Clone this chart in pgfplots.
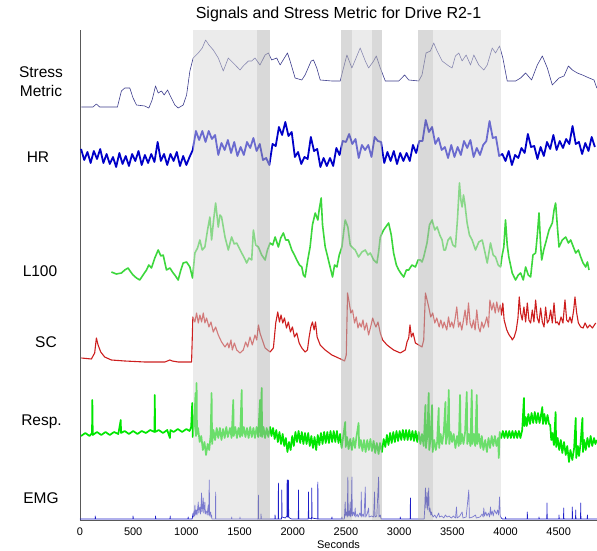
\documentclass[border=0pt]{standalone}
\usepackage{pgfplots}
\pgfplotsset{compat=1.18}
\usepackage{fontspec}
\setmainfont{Liberation Sans}
\definecolor{shadeL}{RGB}{215,215,215}
\definecolor{shadeD}{RGB}{185,185,185}
\definecolor{stresscol}{RGB}{60,60,140}
\definecolor{hrcol}{RGB}{0,0,200}
\definecolor{lcol}{RGB}{60,215,60}
\definecolor{sccol}{RGB}{205,30,30}
\definecolor{respcol}{RGB}{0,230,0}
\definecolor{emgcol}{RGB}{30,30,200}
\begin{document}
\begin{tikzpicture}
\useasboundingbox (-80pt,-31pt) rectangle (517pt,520pt);
\begin{axis}[
  at={(0pt,0pt)}, anchor=south west,
  width=517pt, height=490pt, scale only axis,
  xmin=0, xmax=4860, ymin=0, ymax=490,
  axis x line=bottom, axis y line=left,
  axis line style={-, draw=black!65, line width=0.6pt},
  ytick=\empty,
  xtick={0,500,...,4500},
  major tick length=0pt,
  /pgf/number format/assume math mode=true,
  /pgf/number format/1000 sep={},
  xticklabel style={font=\fontsize{11}{13}\selectfont, anchor=center, yshift=-12pt},
  clip=false,
  line join=round,
]
% Stress metric
\addplot[stresscol, line width=0.6pt] coordinates {
(13,413)(122,413)(154,416)(185,413)(352,413)(389,429)(421,432)(468,432)(499,422)(531,415)(609,414)(647,412)(678,420)(710,434)(735,427)(766,429)(791,425)(823,430)(845,425)(892,415)(923,412)(970,415)(1002,425)(1033,449)(1064,462)(1112,467)(1149,472)(1181,480)(1212,475)(1253,470)(1300,462)(1347,449)(1394,462)(1441,457)(1504,450)(1535,454)(1583,459)(1614,459)(1645,462)(1692,455)(1740,465)(1771,467)(1802,460)(1849,462)(1881,455)(1950,467)(1975,459)(2022,442)(2085,440)(2116,445)(2173,459)(2195,460)(2226,452)(2258,440)(2368,439)(2446,439)(2477,452)(2509,465)(2556,452)(2634,472)(2682,459)(2713,452)(2760,459)(2785,464)(2823,452)(2870,439)(2996,439)(3052,445)(3090,440)(3184,439)(3215,445)(3253,467)(3294,469)(3325,477)(3357,469)(3404,459)(3467,454)(3498,452)(3529,464)(3561,467)(3592,459)(3630,465)(3671,455)(3702,465)(3749,455)(3796,450)(3828,455)(3875,472)(3906,467)(3944,474)(3975,462)(4016,439)(4095,439)(4142,442)(4189,447)(4245,440)(4299,455)(4346,464)(4393,452)(4440,435)(4503,442)(4550,444)(4591,454)(4628,450)(4675,447)(4723,445)(4786,442)(4832,440)(4858,432)
};
% HR
\addplot[hrcol, line width=1.8pt] coordinates {
(10,371)(40,360)(70,368)(100,357)(130,369)(160,361)(190,371)(220,357)(250,366)(280,356)(310,363)(340,353)(370,367)(400,356)(430,364)(460,354)(490,366)(520,359)(550,369)(580,355)(610,365)(640,357)(670,366)(700,358)(730,378)(760,359)(790,366)(820,355)(850,366)(880,359)(910,368)(940,354)(970,364)(1000,355)(1030,363)(1060,370)(1090,389)(1120,380)(1150,389)(1180,378)(1210,389)(1240,381)(1270,385)(1300,365)(1330,377)(1360,370)(1390,380)(1420,367)(1450,378)(1480,364)(1510,373)(1540,365)(1570,378)(1600,372)(1630,382)(1660,369)(1690,376)(1720,360)(1750,362)(1780,355)(1810,376)(1840,374)(1870,393)(1900,385)(1930,398)(1960,384)(1990,388)(2020,363)(2050,368)(2080,356)(2110,363)(2140,361)(2170,383)(2200,369)(2230,371)(2260,353)(2290,362)(2320,354)(2350,362)(2380,354)(2410,372)(2440,365)(2470,379)(2500,378)(2530,386)(2560,376)(2590,381)(2620,362)(2650,375)(2680,370)(2710,375)(2740,363)(2770,383)(2800,379)(2830,378)(2860,357)(2890,368)(2920,359)(2950,369)(2980,356)(3010,367)(3040,359)(3070,367)(3100,359)(3130,375)(3160,367)(3190,379)(3220,379)(3250,400)(3280,388)(3310,393)(3340,376)(3370,382)(3400,370)(3430,373)(3460,362)(3490,375)(3520,363)(3550,373)(3580,365)(3610,379)(3640,372)(3670,380)(3700,363)(3730,372)(3760,365)(3790,375)(3820,379)(3850,399)(3880,382)(3910,383)(3940,364)(3970,366)(4000,359)(4030,369)(4060,355)(4090,365)(4120,362)(4150,372)(4180,367)(4210,386)(4240,373)(4270,374)(4300,361)(4330,373)(4360,364)(4390,378)(4420,371)(4450,385)(4480,370)(4510,379)(4540,372)(4570,381)(4600,376)(4630,394)(4660,376)(4690,378)(4720,366)(4750,377)(4780,369)(4810,383)(4840,373)
};
% L100
\addplot[lcol, line width=1.6pt] coordinates {
(295,248)(342,246)(389,247)(421,250)(452,252)(477,248)(499,245)(531,242)(562,240)(593,245)(625,250)(647,255)(672,252)(703,262)(735,270)(760,264)(782,265)(813,250)(845,252)(876,247)(898,244)(923,240)(948,250)(970,257)(1002,258)(1033,253)(1058,242)(1080,267)(1105,272)(1127,280)(1149,270)(1174,273)(1199,290)(1221,303)(1237,280)(1256,300)(1275,317)(1300,293)(1316,305)(1331,303)(1363,283)(1394,270)(1425,283)(1450,276)(1473,277)(1520,267)(1545,262)(1567,257)(1589,262)(1614,260)(1630,290)(1652,275)(1677,273)(1708,265)(1740,260)(1762,270)(1787,277)(1812,275)(1834,283)(1865,273)(1887,282)(1912,287)(1934,280)(1959,280)(1991,270)(2016,265)(2038,260)(2063,255)(2085,253)(2100,245)(2116,243)(2141,260)(2163,273)(2185,295)(2211,307)(2236,300)(2248,310)(2267,322)(2280,295)(2305,273)(2324,265)(2342,257)(2374,243)(2393,255)(2415,253)(2437,265)(2462,273)(2481,290)(2493,300)(2518,293)(2540,275)(2556,273)(2587,270)(2619,263)(2650,268)(2682,270)(2707,265)(2729,267)(2760,260)(2791,257)(2807,268)(2823,283)(2854,290)(2901,297)(2926,285)(2948,267)(2974,255)(2996,250)(3021,246)(3043,243)(3068,250)(3090,250)(3121,255)(3153,253)(3178,260)(3200,260)(3215,258)(3231,263)(3262,277)(3285,295)(3310,300)(3335,290)(3357,293)(3382,285)(3404,280)(3420,270)(3435,270)(3460,280)(3483,283)(3505,275)(3529,273)(3548,300)(3567,337)(3580,320)(3592,313)(3605,325)(3617,317)(3639,297)(3661,285)(3686,280)(3718,270)(3749,278)(3781,280)(3806,268)(3828,257)(3859,277)(3884,265)(3906,263)(3931,255)(3953,253)(3969,265)(3984,273)(4000,300)(4016,275)(4031,263)(4063,247)(4094,240)(4120,245)(4142,247)(4167,240)(4189,253)(4214,245)(4236,243)(4258,265)(4283,267)(4299,285)(4315,307)(4330,275)(4340,260)(4359,270)(4377,277)(4409,290)(4440,297)(4456,310)(4471,317)(4490,290)(4503,273)(4534,280)(4566,283)(4591,277)(4613,280)(4638,273)(4660,267)(4685,270)(4707,263)(4729,257)(4754,253)(4770,258)(4785,250)
};
% SC
\addplot[sccol, line width=1.1pt] coordinates {
(13,162)(107,161)(138,167)(154,182)(170,175)(195,168)(232,163)(295,160)(421,159)(609,158)(798,158)(845,160)(867,159)(923,158)(1017,158)(1049,158)(1061,203)(1080,198)(1096,207)(1112,197)(1127,205)(1143,198)(1159,207)(1174,197)(1190,202)(1212,193)(1231,198)(1253,188)(1275,193)(1300,185)(1331,178)(1363,173)(1388,177)(1400,172)(1419,180)(1432,170)(1451,177)(1473,170)(1504,167)(1535,170)(1557,178)(1576,173)(1598,183)(1620,175)(1645,185)(1661,180)(1677,195)(1692,187)(1714,180)(1740,172)(1787,168)(1818,172)(1840,197)(1859,208)(1875,198)(1890,205)(1906,197)(1922,202)(1941,192)(1959,198)(1978,188)(1997,193)(2016,183)(2038,187)(2060,177)(2085,172)(2116,168)(2138,170)(2154,183)(2170,193)(2185,198)(2201,190)(2214,198)(2229,183)(2258,175)(2305,170)(2368,165)(2430,162)(2487,159)(2503,165)(2515,227)(2531,217)(2546,207)(2562,210)(2581,197)(2597,203)(2613,192)(2628,197)(2644,193)(2660,200)(2675,190)(2694,197)(2713,185)(2732,193)(2751,202)(2766,197)(2782,193)(2801,198)(2823,187)(2845,180)(2886,175)(2948,170)(3011,167)(3058,170)(3074,178)(3090,182)(3102,195)(3115,183)(3131,187)(3153,177)(3184,175)(3215,173)(3231,180)(3247,227)(3263,220)(3278,213)(3297,203)(3316,207)(3335,197)(3354,202)(3376,193)(3392,200)(3410,192)(3423,198)(3448,190)(3464,203)(3479,193)(3495,198)(3511,192)(3527,202)(3542,213)(3558,193)(3573,198)(3589,190)(3605,200)(3620,210)(3636,195)(3652,217)(3667,197)(3683,192)(3699,200)(3714,190)(3730,210)(3746,193)(3761,188)(3777,198)(3793,192)(3809,197)(3824,203)(3840,193)(3853,220)(3871,210)(3887,217)(3903,207)(3918,218)(3934,208)(3950,215)(3962,205)(3975,217)(3987,200)(4012,190)(4034,185)(4056,182)(4063,180)(4082,183)(4101,190)(4117,202)(4129,223)(4142,207)(4157,200)(4173,213)(4189,198)(4205,217)(4220,200)(4236,197)(4252,210)(4267,198)(4283,220)(4299,202)(4315,197)(4330,212)(4346,198)(4362,193)(4377,213)(4393,197)(4409,200)(4424,210)(4440,197)(4456,217)(4471,197)(4487,198)(4503,195)(4522,203)(4540,197)(4559,220)(4575,200)(4591,198)(4606,203)(4622,197)(4641,210)(4653,223)(4669,207)(4685,197)(4707,193)(4729,192)(4748,197)(4770,192)(4792,195)(4817,192)(4848,197)
};
% Resp
\addplot[respcol, line width=1.7pt] coordinates {
(10,84)(50,87)(90,84)(113,87)(116,120)(120,85)(160,88)(200,85)(240,88)(280,85)(320,88)(360,86)(383,100)(386,87)(420,89)(460,86)(500,89)(540,86)(580,89)(620,87)(660,90)(700,88)(703,125)(706,88)(740,90)(780,87)(820,90)(845,82)(850,90)(880,88)(920,91)(960,88)(1000,91)(1030,89)
(1045,93)(1055,117)(1060,83)(1074,96)(1086,127)(1090,84)(1096,137)(1100,86)(1110,92)(1125,78)(1140,84)(1155,70)(1170,78)(1185,65)(1200,76)(1215,70)(1228,85)(1237,127)(1242,76)(1255,90)(1270,80)(1285,92)(1300,82)(1315,92)(1330,80)(1345,91)(1360,82)(1375,93)(1390,83)(1410,92)(1425,82)(1441,120)(1445,84)(1460,93)(1475,82)(1490,92)(1505,83)(1520,130)(1525,84)(1540,93)(1555,83)(1570,92)(1585,82)(1600,93)(1615,83)(1630,92)(1645,82)(1660,93)(1675,83)(1692,120)(1697,84)(1708,132)(1712,83)(1725,93)(1740,82)(1755,92)(1770,83)(1787,93)(1800,84)(1815,92)(1830,81)(1845,90)(1860,78)(1875,88)(1890,76)(1905,86)(1920,74)(1935,82)(1950,68)(1965,78)(1980,70)(1995,84)(2010,74)(2025,88)(2040,78)(2055,89)(2070,77)(2085,88)(2100,76)(2115,87)(2130,76)(2145,87)(2160,74)(2175,84)(2190,72)(2205,83)(2220,70)(2235,85)(2250,75)(2265,87)(2280,76)(2295,88)(2310,77)(2325,88)(2340,77)(2355,89)(2370,78)(2385,89)(2400,78)(2415,89)(2430,77)(2445,86)(2460,72)(2475,84)(2493,98)(2498,73)(2510,83)(2525,71)(2540,81)(2556,70)(2570,82)(2585,72)(2600,84)(2619,97)(2624,72)(2640,80)(2655,69)(2670,80)(2685,68)(2700,80)(2715,70)(2730,81)(2744,69)(2760,79)(2775,67)(2790,77)(2807,66)(2820,77)(2838,68)(2855,81)(2870,73)(2885,85)(2900,75)(2915,87)(2930,77)(2945,88)(2960,78)(2975,89)(2990,79)(3005,89)(3020,80)(3035,90)(3050,80)(3065,90)(3080,80)(3095,90)(3110,80)(3125,89)(3140,79)(3155,89)(3170,78)(3185,88)(3200,76)(3215,86)(3231,74)(3247,115)(3252,72)(3265,84)(3278,127)(3283,70)(3294,80)(3310,115)(3315,68)(3330,80)(3345,70)(3357,78)(3372,112)(3376,72)(3390,86)(3404,76)(3420,88)(3435,118)(3440,76)(3455,86)(3467,130)(3472,76)(3485,88)(3498,78)(3513,86)(3529,72)(3545,84)(3560,74)(3573,125)(3578,76)(3590,86)(3605,76)(3620,88)(3636,128)(3641,76)(3655,86)(3670,74)(3683,130)(3688,76)(3700,86)(3715,74)(3730,125)(3735,76)(3750,86)(3765,72)(3777,84)(3792,70)(3809,80)(3825,68)(3840,82)(3855,72)(3870,84)(3885,74)(3900,84)(3915,74)(3930,82)(3937,62)(3945,88)(3960,82)(3975,89)(3990,82)(4005,89)(4020,82)(4035,89)(4050,82)(4065,89)(4080,82)(4095,89)(4110,82)(4126,89)(4140,82)(4157,90)(4173,122)(4178,94)(4189,103)(4200,94)(4215,106)(4230,96)(4245,107)(4260,97)(4275,108)(4290,97)(4305,107)(4320,97)(4335,106)(4346,113)(4352,96)(4365,106)(4380,96)(4395,105)(4409,96)(4420,95)(4430,80)(4440,87)(4455,75)(4471,108)(4476,73)(4490,82)(4505,70)(4520,80)(4534,67)(4550,78)(4566,65)(4580,74)(4597,58)(4610,70)(4628,60)(4645,72)(4660,102)(4665,62)(4680,74)(4691,64)(4705,76)(4723,102)(4728,68)(4740,80)(4754,70)(4770,82)(4785,73)(4800,84)(4815,74)(4832,82)(4845,76)(4858,80)
};
% EMG
\addplot[emgcol, line width=0.7pt] coordinates {
(0,1)(142,1)(144,4)(146,1)(497,1)(499,4)(501,1)(708,1)(710,4)(712,1)(846,1)(848,4)(850,1)(1015,1)(1017,3)(1019,1)
(1055,1)(1060,5)(1064,7)(1068,3)(1072,9)(1076,4)(1080,15)(1084,5)(1088,10)(1092,6)(1096,10)(1100,5)(1106,12)(1112,18)(1116,7)(1120,11)(1127,13)(1132,6)(1136,10)(1143,27)(1147,8)(1152,12)(1159,22)(1163,7)(1168,11)(1174,18)(1178,6)(1184,9)(1190,8)(1196,5)(1200,10)(1206,15)(1210,5)(1215,40)(1219,4)(1223,7)(1228,8)(1232,3)(1237,5)(1240,1)(1273,1)(1275,28)(1277,1)
(1424,1)(1426,3)(1428,1)(1502,1)(1504,3)(1506,1)(1675,1)(1677,25)(1679,1)(1700,1)(1702,6)(1704,1)(1832,1)(1834,5)(1836,1)(1863,1)(1865,37)(1867,1)(1895,1)(1897,30)(1899,3)(1930,2)(1945,4)(1947,40)(1950,3)(1953,40)(1956,3)(1959,40)(1962,3)(1970,2)(1990,1)(2052,1)(2054,30)(2056,1)(2146,1)(2148,28)(2150,2)(2177,1)(2179,32)(2181,2)(2234,1)(2236,38)(2238,1)(2366,1)(2368,3)(2370,1)(2460,1)(2462,3)(2464,1)
(2485,1)(2493,18)(2497,4)(2505,8)(2512,3)(2518,43)(2522,4)(2530,9)(2535,4)(2540,18)(2544,3)(2550,7)(2556,43)(2560,4)(2570,8)(2580,4)(2587,12)(2592,3)(2605,6)(2615,3)(2630,7)(2640,4)(2644,28)(2648,3)(2660,6)(2670,3)(2682,33)(2686,3)(2700,6)(2713,12)(2717,3)(2740,4)(2760,3)(2769,28)(2773,3)(2790,4)(2807,43)(2811,3)(2823,5)(2830,1)
(3009,1)(3011,3)(3013,1)(3104,1)(3106,22)(3108,1)(3235,1)(3240,10)(3247,32)(3252,12)(3258,20)(3263,28)(3268,10)(3273,18)(3278,32)(3283,8)(3290,12)(3298,5)(3305,8)(3310,5)(3320,3)(3335,5)(3350,2)(3372,7)(3380,3)(3400,4)(3420,2)(3435,5)(3450,3)(3470,4)(3490,2)(3510,4)(3530,2)(3539,13)(3545,2)(3570,4)(3592,8)(3600,2)(3630,3)(3655,30)(3660,2)(3690,3)(3718,5)(3725,2)(3760,3)(3780,6)(3790,3)(3796,12)(3802,4)(3815,8)(3825,4)(3840,7)(3850,3)(3859,13)(3865,5)(3875,9)(3885,4)(3895,10)(3906,8)(3915,6)(3925,10)(3935,5)(3944,23)(3950,4)(3960,2)(3970,1)
(3998,1)(4000,3)(4002,1)(4203,1)(4205,8)(4207,1)(4313,1)(4315,3)(4317,1)(4388,1)(4390,17)(4392,1)(4501,1)(4503,5)(4505,1)(4545,1)(4547,12)(4549,1)(4626,1)(4628,13)(4630,1)(4658,1)(4660,10)(4662,1)(4705,1)(4707,17)(4709,1)(4768,1)(4770,5)(4772,1)(4860,1)
};
% shaded intervals (drawn over the traces)
\addplot[draw=none, fill=shadeL, fill opacity=0.5, forget plot] coordinates {(1063,0)(1063,490)(1665,490)(1665,0)} -- cycle;
\addplot[draw=none, fill=shadeD, fill opacity=0.55, forget plot] coordinates {(1665,0)(1665,490)(1787,490)(1787,0)} -- cycle;
\addplot[draw=none, fill=shadeD, fill opacity=0.55, forget plot] coordinates {(2455,0)(2455,490)(2559,490)(2559,0)} -- cycle;
\addplot[draw=none, fill=shadeL, fill opacity=0.5, forget plot] coordinates {(2559,0)(2559,490)(2747,490)(2747,0)} -- cycle;
\addplot[draw=none, fill=shadeD, fill opacity=0.55, forget plot] coordinates {(2747,0)(2747,490)(2841,490)(2841,0)} -- cycle;
\addplot[draw=none, fill=shadeD, fill opacity=0.55, forget plot] coordinates {(3180,0)(3180,490)(3321,490)(3321,0)} -- cycle;
\addplot[draw=none, fill=shadeL, fill opacity=0.5, forget plot] coordinates {(3321,0)(3321,490)(3960,490)(3960,0)} -- cycle;
% labels
\begin{scope}[every node/.style={font=\fontsize{15.5}{19}\selectfont, align=center}]
\node at (axis cs:0,438) [xshift=-39pt] {Stress\\Metric};
\node at (axis cs:0,363) [xshift=-42pt] {HR};
\node at (axis cs:0,249) [xshift=-40pt] {L100};
\node at (axis cs:0,178) [xshift=-34pt] {SC};
\node at (axis cs:0,98) [xshift=-38.5pt] {Resp.};
\node at (axis cs:0,22) [xshift=-39pt] {EMG};
\end{scope}
\node[font=\fontsize{16}{19}\selectfont] at (rel axis cs:0.5,1) [yshift=16pt] {Signals and Stress Metric for Drive R2-1};
\node[font=\fontsize{11}{13}\selectfont] at (rel axis cs:0.5,0) [yshift=-25pt] {Seconds};
\end{axis}
\end{tikzpicture}
\end{document}
